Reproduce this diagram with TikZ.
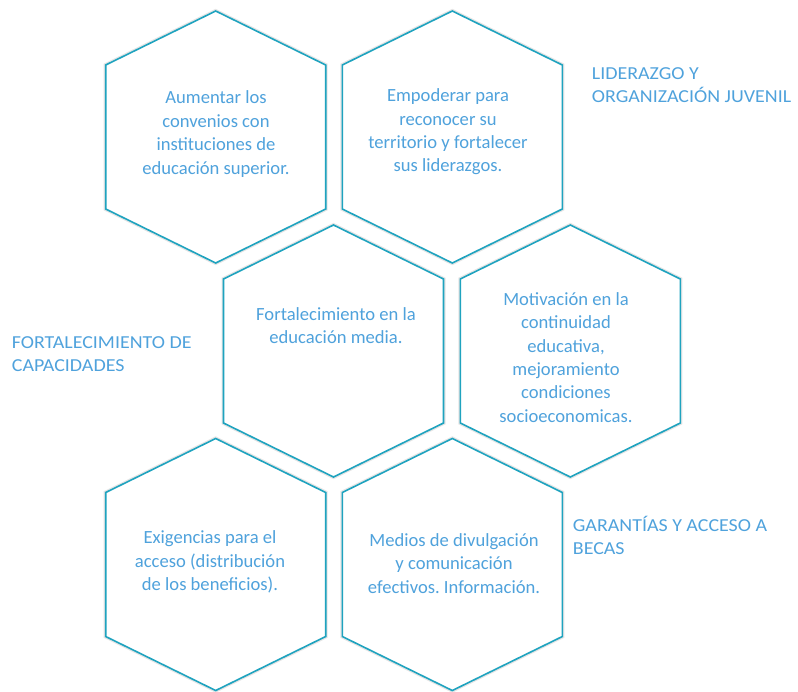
\documentclass[tikz,border=0pt]{standalone}
\usepackage{fontspec}
\setmainfont{Carlito}
\newfontfamily\labelfont[FakeStretch=1.09]{Carlito}
\definecolor{hexline}{HTML}{1FA3BF}
\definecolor{hextext}{HTML}{4FA2DC}
\begin{document}
\frenchspacing
\begin{tikzpicture}[x=1pt,y=-1pt,
  hexshadow/.style={draw=black!10, line width=4pt, line join=miter},
  hexbody/.style={draw=hexline, fill=white, line width=1.6pt, line join=miter},
  hextxt/.style={text=hextext, align=center, inner sep=0pt, font=\fontsize{18.6}{23.4}\selectfont},
  labeltxt/.style={text=hextext, align=left, inner sep=0pt, anchor=base west, font=\labelfont\fontsize{18.3}{23.3}\selectfont}]
\useasboundingbox (0,0) rectangle (798,691);
\newcommand\hexpath[1]{(#1) ++(0,-126) -- ++(110,54) -- ++(0,144) -- ++(-110,54) -- ++(-110,-54) -- ++(0,-144) -- cycle}
\coordinate (c1) at (215.7,137);
\coordinate (c2) at (452.3,137);
\coordinate (c3) at (333.5,351);
\coordinate (c4) at (570.3,351);
\coordinate (c5) at (215.7,564.5);
\coordinate (c6) at (452.3,564.5);
\foreach \c in {c1,c2,c3,c4,c5,c6}{
  \draw[hexshadow] \hexpath{\c};
  \draw[hexbody] \hexpath{\c};
}
\node[hextxt] (t1) at (216,134) {Aumentar los\\convenios con\\instituciones de\\educación superior.};
\node[hextxt] (t2) at (448,132) {Empoderar para\\reconocer su\\territorio y fortalecer\\sus liderazgos.};
\node[hextxt] (t3) at (336,325.5) {Fortalecimiento en la\\educación media.};
\node[hextxt] (t4) at (566,357.5) {Motivación en la\\continuidad\\educativa,\\mejoramiento\\condiciones\\socioeconomicas.};
\node[hextxt] (t5) at (210,562) {Exigencias para el\\acceso (distribución\\de los beneficios).};
\node[hextxt] (t6) at (454,563.3) {Medios de divulgación\\y comunicación\\efectivos. Información.};
\node[labeltxt] (l1) at (591.7,102.7) {LIDERAZGO Y\\ORGANIZACIÓN JUVENIL};
\node[labeltxt] (l2) at (11.7,371.7) {FORTALECIMIENTO DE\\CAPACIDADES};
\node[labeltxt] (l3) at (572.7,554.3) {GARANTÍAS Y ACCESO A\\BECAS};
\end{tikzpicture}
\end{document}
